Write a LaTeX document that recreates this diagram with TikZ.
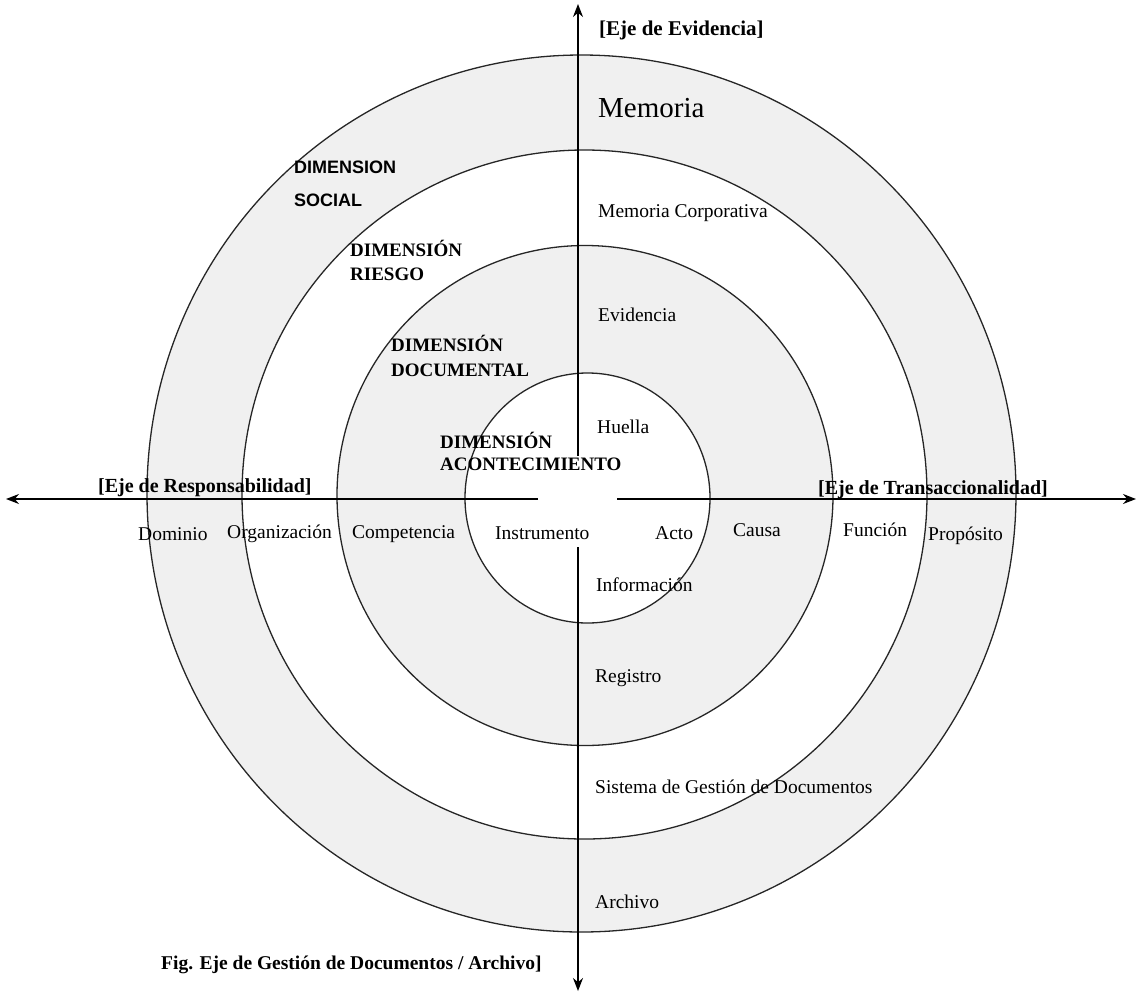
\documentclass[tikz,border=0pt]{standalone}
\usepackage{fontspec}
\setmainfont{Liberation Serif}
\newfontfamily\arialfont{Liberation Sans}
\usetikzlibrary{arrows.meta}

\tikzset{
  ring/.style={draw=black!85,line width=1.3pt},
  axis/.style={line width=1.4pt,-{Stealth[length=13pt,width=10pt]}},
  lbl/.style={anchor=west,inner sep=0pt,font=\fontsize{19.5}{22}\selectfont},
  ejelbl/.style={anchor=west,inner sep=0pt,font=\bfseries\fontsize{20}{23}\selectfont},
  dimlbl/.style={anchor=west,inner sep=0pt,align=left,font=\bfseries\fontsize{19}{23}\selectfont}
}

\begin{document}
\begin{tikzpicture}[x=1pt,y=-1pt]
    \useasboundingbox (0,0) rectangle (1138,994);
    % rings, outside in
    \filldraw[ring,fill=gray!12] (581.5,493.5) ellipse [x radius=434.5,y radius=438.5];
    \filldraw[ring,fill=white] (584.5,494.5) ellipse [x radius=342.5,y radius=344.5];
    \filldraw[ring,fill=gray!12] (585,495.5) ellipse [x radius=248,y radius=250];
    \filldraw[ring,fill=white] (587.5,498) ellipse [x radius=122.5,y radius=125];

    % axes
    \coordinate (west) at (6,499);
    \coordinate (wgap) at (538,499);
    \coordinate (egap) at (617,499);
    \coordinate (east) at (1136,499);
    \coordinate (north) at (578,4);
    \coordinate (ngap) at (578,456);
    \coordinate (sgap) at (578,547);
    \coordinate (south) at (578,991);
    \draw[axis] (wgap) -- (west);
    \draw[axis] (egap) -- (east);
    \draw[axis] (ngap) -- (north);
    \draw[axis] (sgap) -- (south);

    \node[ejelbl] (ejeevid) at (599,30) {\fontsize{21}{24}\selectfont[Eje de Evidencia]};
    \node[ejelbl] (ejeresp) at (98,488) {[Eje de Responsabilidad]};
    \node[ejelbl] (ejetrans) at (818,490) {[Eje de Transaccionalidad]};
    \node[ejelbl] (figcap) at (161,965) {\fontsize{19.5}{22}\selectfont Fig. Eje de Gestión de Documentos / Archivo]};

    % vertical axis
    \node[lbl,font=\fontsize{29}{32}\selectfont] (memoria) at (598,108) {Memoria};
    \node[lbl] (memcorp) at (598,213) {Memoria Corporativa};
    \node[lbl] (evidencia) at (598,315) {Evidencia};
    \node[lbl] (huella) at (597,427) {Huella};
    \node[lbl] (informacion) at (596,585) {Información};
    \node[lbl] (registro) at (595,678) {Registro};
    \node[lbl] (sgd) at (595,787) {Sistema de Gestión de Documentos};
    \node[lbl] (archivo) at (595,902) {Archivo};

    % horizontal axis
    \node[lbl] (dominio) at (138,534) {Dominio};
    \node[lbl] (organizacion) at (227,534) {Organización};
    \node[lbl] (competencia) at (352,534) {Competencia};
    \node[lbl] (instrumento) at (495,533) {Instrumento};
    \node[lbl] (acto) at (655,533) {Acto};
    \node[lbl] (causa) at (733,530) {Causa};
    \node[lbl] (funcion) at (843,530) {Función};
    \node[lbl] (proposito) at (928,536) {Propósito};

    % dimensions
    \node[dimlbl,font=\arialfont\bfseries\fontsize{18}{33}\selectfont] (dimsocial) at (294,183.5) {DIMENSION\\SOCIAL};
    \node[dimlbl,font=\bfseries\fontsize{19}{24}\selectfont] (dimriesgo) at (350,260) {DIMENSIÓN\\RIESGO};
    \node[dimlbl,font=\bfseries\fontsize{19}{25}\selectfont] (dimdoc) at (391,355.5) {DIMENSIÓN\\DOCUMENTAL};
    \node[dimlbl,font=\bfseries\fontsize{19}{22}\selectfont] (dimacont) at (440,451) {DIMENSIÓN\\ACONTECIMIENTO};
\end{tikzpicture}
\end{document}
